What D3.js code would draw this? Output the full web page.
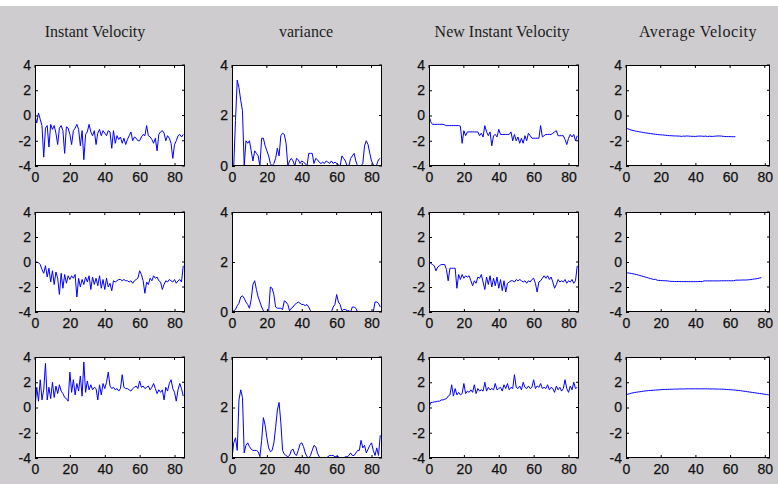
<!DOCTYPE html>
<html>
<head>
<meta charset="utf-8">
<script src="https://cdn.jsdelivr.net/npm/d3@7"></script>
<style>
  html, body { margin: 0; padding: 0; background: #ffffff; }
  svg { display: block; }
  .tick text { font-family: "Liberation Sans", Arial, sans-serif; font-size: 14px; fill: #111111; stroke: #111111; stroke-width: 0.25px; }
  .title { font-family: "Liberation Serif", "Times New Roman", serif; font-size: 16px; fill: #1c1c1c; }
</style>
</head>
<body>
<div id="chart"></div>
<script>
// Column headings
const columnTitles = ["Instant Velocity", "variance", "New Instant Velocity", "Average Velocity"];

// Tick values
const xTickValues = [0, 20, 40, 60, 80];
const velocityTickValues = [-4, -2, 0, 2, 4];
const varianceTickValues = [0, 2, 4];

// Instant velocity, one series per row (sample index = position in array)
const instantVelocity1 = [0, -0.6, 0.2, -0.3, -0.8, -3.3, -1.0, -0.8, -2.5, -0.7, -1.1, -0.8, -1.4, -2.3, -1.0, -0.8, -1.2, -3.0, -0.9, -1.0, -1.5, -2.3, -1.2, -1.0, -0.7, -1.1, -2.4, -1.2, -3.5, -1.5, -1.3, -0.7, -1.3, -1.6, -1.2, -2.3, -1.4, -1.1, -1.6, -1.2, -1.4, -1.6, -1.2, -1.3, -2.6, -1.2, -2.2, -1.6, -1.9, -1.7, -2.2, -1.8, -2.3, -1.9, -1.6, -1.3, -2.0, -1.7, -1.8, -2.0, -2.0, -1.7, -1.5, -1.6, -0.8, -1.6, -1.7, -1.9, -2.2, -1.8, -2.8, -1.5, -1.3, -1.2, -1.4, -2.0, -1.6, -1.8, -2.2, -3.4, -2.3, -2.0, -1.6, -1.5, -1.7, -1.5];
const instantVelocity2 = [0, 0, -0.05, -0.2, -0.6, -0.9, -0.3, -1.2, -0.5, -1.6, -0.7, -1.8, -0.8, -1.3, -2.6, -0.9, -2.1, -1.0, -1.7, -1.1, -1.4, -1.1, -1.3, -1.0, -2.8, -1.3, -2.0, -1.4, -1.8, -1.2, -1.6, -1.1, -2.2, -1.2, -1.8, -1.3, -1.9, -1.1, -2.1, -1.4, -2.2, -1.3, -2.0, -1.7, -2.3, -1.5, -1.6, -1.5, -1.4, -1.4, -1.5, -1.4, -1.5, -1.5, -1.6, -1.5, -1.7, -1.5, -1.4, -1.3, -0.7, -1.0, -1.5, -2.5, -1.6, -1.8, -1.3, -1.5, -1.1, -1.3, -1.2, -1.5, -1.6, -2.2, -1.8, -1.5, -1.6, -1.4, -1.5, -1.6, -1.4, -1.7, -1.5, -1.4, -1.6, -0.3];
const instantVelocity3 = [0.0, 1.6, 0.5, 2.2, 0.6, 1.4, 3.5, 0.6, 1.6, 0.7, 2.0, 0.8, 1.7, 1.1, 1.8, 1.3, 1.1, 0.8, 0.7, 0.5, 2.8, 1.2, 2.2, 1.0, 1.9, 1.3, 2.5, 0.9, 3.6, 1.2, 2.1, 1.4, 1.8, 1.4, 1.6, 1.5, 0.6, 1.8, 1.0, 1.9, 1.5, 2.0, 2.8, 1.7, 1.5, 1.6, 1.4, 1.5, 1.3, 1.5, 2.6, 1.6, 1.5, 1.5, 1.4, 1.3, 1.5, 1.6, 1.7, 1.5, 2.1, 1.6, 1.7, 1.5, 1.6, 1.7, 1.4, 1.6, 1.9, 1.5, 1.1, 1.4, 1.2, 1.4, 0.6, 1.6, 1.3, 1.9, 2.2, 1.5, 1.2, 0.5, 1.4, 1.9, 1.5, 0.9];

// Variance
const variance1 = [0, 0, 1.8, 3.4, 3.1, 2.6, 2.2, 0, 1.0, 0.9, 1.0, 0.6, 0.2, 0.6, 0.5, 0.4, 0, 1.1, 1.1, 0.8, 0.6, 0.4, 0.1, 0, 0.1, 0.3, 0.7, 0.4, 1.2, 1.3, 1.25, 0.9, 0, 0.2, 0.3, 0.2, 0, 0.3, 0.25, 0.1, 0.2, 0.15, 0.1, 0, 0.5, 0.5, 0.5, 0.1, 0.3, 0.25, 0.15, 0.1, 0.15, 0.1, 0.2, 0.15, 0.1, 0.2, 0.1, 0.15, 0.1, 0.05, 0, 0.4, 0.3, 0.2, 0, 0, 0.3, 0.4, 0.5, 0.2, 0, 0, 0, 0.1, 0.8, 1.0, 0.85, 0.5, 0.2, 0.05, 0, 0.05, 0.25, 0.3];
const variance2 = [0, 0.05, 0.1, 0.25, 0.35, 0.6, 0.65, 0.55, 0.4, 0.3, 0.15, 0.5, 1.1, 1.25, 0.9, 0.6, 0.4, 0.2, 0.05, 0, 0, 0, 1.0, 0.95, 0.7, 0.2, 0.15, 0.15, 0.15, 0.1, 0.45, 0.4, 0.3, 0.05, 0.15, 0.2, 0.3, 0.35, 0.4, 0.35, 0.3, 0.3, 0.25, 0.3, 0.2, 0.05, 0, 0, 0, 0, 0, 0, 0, 0, 0, 0, 0, 0, 0.2, 0.3, 0.7, 0.4, 0.3, 0.05, 0.1, 0.1, 0.05, 0.05, 0, 0.2, 0.2, 0.15, 0, 0, 0, 0, 0, 0, 0, 0, 0, 0, 0.4, 0.4, 0.35, 0.2];
const variance3 = [0.0, 0.6, 0.8, 0.3, 2.3, 2.7, 2.4, 0.2, 0.5, 0.6, 0.45, 0.35, 0.3, 0.3, 0.3, 0.25, 0.05, 0.7, 1.6, 1.3, 0.8, 0.4, 0.25, 0.3, 0.6, 1.2, 1.9, 2.2, 1.4, 0.3, 0.15, 0.1, 0.05, 0.1, 0.3, 0.35, 0.15, 0.1, 0.3, 0.55, 0.6, 0.45, 0.2, 0.05, 0.0, 0.1, 0.3, 0.5, 0.45, 0.2, 0.05, 0.0, 0.0, 0.0, 0.0, 0.05, 0.1, 0.1, 0.1, 0.05, 0.05, 0.05, 0.0, 0.0, 0.0, 0.05, 0.05, 0.1, 0.2, 0.1, 0.1, 0.2, 0.3, 0.3, 0.7, 0.4, 0.5, 0.2, 0.35, 0.5, 0.6, 0.3, 0.1, 0.4, 0.1, 0.9];

// New instant velocity
const newInstantVelocity1 = [0, -0.5, -0.7, -0.7, -0.7, -0.7, -0.7, -0.7, -0.7, -0.75, -0.8, -0.8, -0.8, -0.8, -0.8, -0.8, -0.8, -0.8, -0.85, -2.2, -1.2, -1.6, -1.3, -1.3, -1.3, -1.3, -1.3, -1.3, -1.3, -1.6, -1.4, -1.7, -0.8, -1.3, -1.6, -1.3, -2.4, -1.6, -1.5, -1.7, -1.1, -1.5, -1.5, -1.5, -1.5, -1.5, -1.5, -1.3, -2.0, -1.5, -2.0, -1.7, -2.2, -1.8, -2.2, -1.6, -2.0, -1.4, -1.6, -1.8, -1.8, -1.8, -1.8, -1.8, -0.8, -1.7, -1.6, -1.5, -1.5, -1.5, -1.5, -1.4, -1.3, -1.2, -1.6, -1.6, -1.6, -1.6, -1.9, -2.3, -1.8, -1.5, -1.7, -1.5, -2.0, -1.6];
const newInstantVelocity2 = [0, -0.1, -0.2, -0.3, -0.7, -0.4, -0.3, -0.2, -0.2, -0.2, -0.6, -1.5, -0.5, -0.5, -0.5, -0.5, -2.1, -1.0, -1.4, -1.0, -1.3, -1.1, -1.2, -1.1, -1.5, -1.9, -1.5, -1.7, -1.2, -1.3, -1.0, -1.6, -2.2, -1.2, -1.8, -1.1, -2.0, -1.3, -1.9, -1.2, -2.1, -1.4, -2.3, -1.5, -2.4, -1.7, -1.6, -1.5, -1.5, -1.6, -1.4, -1.5, -1.4, -1.5, -1.6, -1.5, -1.7, -1.5, -1.6, -1.4, -1.3, -1.7, -2.4, -1.6, -1.5, -1.3, -1.1, -1.3, -1.1, -1.4, -1.2, -1.6, -2.1, -1.8, -1.4, -1.6, -1.5, -1.6, -1.4, -1.7, -1.5, -1.6, -1.4, -1.7, -1.5, -0.3];
const newInstantVelocity3 = [0.0, 0.4, 0.4, 0.45, 0.45, 0.5, 0.5, 0.6, 0.6, 0.65, 0.7, 0.9, 1.0, 1.8, 0.9, 1.5, 1.0, 1.2, 1.0, 1.1, 1.9, 1.1, 1.3, 1.2, 1.4, 1.2, 1.8, 1.1, 1.5, 1.3, 1.4, 1.3, 2.0, 1.3, 1.6, 1.4, 1.5, 1.4, 1.9, 1.4, 1.5, 1.6, 1.3, 1.8, 1.5, 1.9, 1.4, 1.6, 1.5, 2.6, 1.6, 1.5, 1.7, 1.4, 2.0, 1.6, 1.5, 1.7, 1.5, 1.6, 2.2, 1.5, 1.7, 1.6, 1.9, 1.5, 1.6, 1.5, 1.8, 1.4, 1.6, 1.5, 1.2, 1.7, 1.4, 1.6, 1.3, 1.5, 2.2, 1.5, 1.2, 1.7, 1.4, 2.0, 1.5, 1.6];

// Average velocity
const averageVelocity1 = [-1.00, -1.05, -1.10, -1.15, -1.18, -1.22, -1.25, -1.27, -1.30, -1.32, -1.35, -1.37, -1.39, -1.41, -1.43, -1.45, -1.47, -1.49, -1.50, -1.52, -1.53, -1.54, -1.55, -1.57, -1.58, -1.60, -1.60, -1.61, -1.62, -1.62, -1.63, -1.63, -1.66, -1.63, -1.64, -1.62, -1.63, -1.64, -1.65, -1.65, -1.66, -1.64, -1.63, -1.63, -1.64, -1.65, -1.63, -1.67, -1.64, -1.65, -1.66, -1.64, -1.63, -1.62, -1.62, -1.63, -1.65, -1.66, -1.67, -1.67, -1.67, -1.68, -1.68, -1.68];
const averageVelocity2 = [-0.85, -0.87, -0.89, -0.92, -0.94, -0.97, -1.00, -1.04, -1.08, -1.12, -1.16, -1.20, -1.24, -1.28, -1.32, -1.36, -1.40, -1.38, -1.46, -1.47, -1.48, -1.49, -1.50, -1.50, -1.51, -1.54, -1.55, -1.55, -1.56, -1.56, -1.56, -1.56, -1.57, -1.57, -1.57, -1.57, -1.57, -1.57, -1.57, -1.57, -1.57, -1.57, -1.56, -1.56, -1.56, -1.51, -1.51, -1.51, -1.51, -1.51, -1.51, -1.51, -1.51, -1.51, -1.51, -1.50, -1.50, -1.50, -1.50, -1.50, -1.50, -1.50, -1.50, -1.46, -1.45, -1.45, -1.45, -1.44, -1.44, -1.44, -1.43, -1.42, -1.40, -1.38, -1.36, -1.34, -1.32, -1.28, -1.25];
const averageVelocity3 = [1.00, 1.05, 1.09, 1.13, 1.16, 1.19, 1.21, 1.23, 1.25, 1.27, 1.29, 1.31, 1.32, 1.34, 1.35, 1.36, 1.37, 1.38, 1.39, 1.40, 1.41, 1.42, 1.43, 1.43, 1.44, 1.44, 1.45, 1.45, 1.46, 1.46, 1.46, 1.47, 1.47, 1.47, 1.47, 1.48, 1.48, 1.48, 1.48, 1.48, 1.48, 1.48, 1.48, 1.48, 1.48, 1.48, 1.48, 1.48, 1.47, 1.47, 1.47, 1.47, 1.46, 1.46, 1.46, 1.45, 1.45, 1.44, 1.43, 1.42, 1.41, 1.40, 1.39, 1.38, 1.36, 1.35, 1.33, 1.31, 1.29, 1.27, 1.25, 1.23, 1.21, 1.19, 1.17, 1.15, 1.13, 1.11, 1.09, 1.07, 1.05, 1.03, 1.01, 0.99, 0.97, 0.95];

// ---- layout ----
const width = 778, height = 484;
const colLeft = [35, 232, 429, 626];
const colWidth = [150, 150, 150, 144];
const colXMax = [86, 86, 86, 83];
const rowTop = [65, 212, 357];
const rowHeight = [101, 100, 101];
const titleX = [95, 306, 502, 698];
const titleSpacing = [0, 0, 0, 0.5];
const titleY = 37;
const tickLen = 3;

const columns = [
  { series: [instantVelocity1, instantVelocity2, instantVelocity3], yDomain: [-4, 4], yTicks: velocityTickValues },
  { series: [variance1, variance2, variance3], yDomain: [0, 4], yTicks: varianceTickValues },
  { series: [newInstantVelocity1, newInstantVelocity2, newInstantVelocity3], yDomain: [-4, 4], yTicks: velocityTickValues },
  { series: [averageVelocity1, averageVelocity2, averageVelocity3], yDomain: [-4, 4], yTicks: velocityTickValues }
];

const svg = d3.select("#chart").append("svg")
  .attr("width", width).attr("height", height);

// figure background
svg.append("rect").attr("width", width).attr("height", height).attr("fill", "#ffffff");
svg.append("rect").attr("x", 0).attr("y", 6).attr("width", width).attr("height", height - 6).attr("fill", "#cecccf");

// column headings
svg.selectAll("text.title").data(columnTitles).join("text")
  .attr("class", "title")
  .attr("x", (d, i) => titleX[i])
  .attr("y", titleY)
  .attr("text-anchor", "middle")
  .attr("letter-spacing", (d, i) => titleSpacing[i])
  .text(d => d);

const fmt = d => String(d);

columns.forEach((col, c) => {
  col.series.forEach((values, r) => {
    const x0 = colLeft[c], y0 = rowTop[r], w = colWidth[c], h = rowHeight[r];
    const x = d3.scaleLinear().domain([0, colXMax[c]]).range([0, w]);
    const y = d3.scaleLinear().domain(col.yDomain).range([h, 0]);

    const g = svg.append("g").attr("transform", `translate(${x0},${y0})`);
    const clipId = `clip-${c}-${r}`;
    g.append("clipPath").attr("id", clipId)
      .append("rect").attr("width", w).attr("height", h);

    g.append("rect").attr("width", w).attr("height", h).attr("fill", "#ffffff");

    const line = d3.line().x((d, i) => x(i)).y(d => y(d));
    g.append("path")
      .datum(values)
      .attr("clip-path", `url(#${clipId})`)
      .attr("fill", "none")
      .attr("stroke", "#0000ff")
      .attr("stroke-width", 1)
      .attr("stroke-linejoin", "round")
      .attr("d", line);

    // bottom axis with labels, ticks pointing inward
    const xAxis = g.append("g").attr("transform", `translate(0,${h})`)
      .call(d3.axisBottom(x).tickValues(xTickValues).tickFormat(fmt).tickSizeInner(-tickLen).tickSizeOuter(0).tickPadding(6));
    // left axis with labels
    const yAxis = g.append("g")
      .call(d3.axisLeft(y).tickValues(col.yTicks).tickFormat(fmt).tickSizeInner(-tickLen).tickSizeOuter(0).tickPadding(4));
    [xAxis, yAxis].forEach(a => {
      a.select(".domain").remove();
      a.selectAll(".tick line").attr("stroke", "#000");
      a.selectAll(".tick text").attr("font-family", null).attr("font-size", null).attr("fill", null);
    });

    // mirrored ticks on top and right edges
    g.append("g").selectAll("line").data(xTickValues).join("line")
      .attr("x1", d => x(d)).attr("x2", d => x(d))
      .attr("y1", 0).attr("y2", tickLen).attr("stroke", "#000");
    g.append("g").selectAll("line").data(col.yTicks).join("line")
      .attr("x1", w).attr("x2", w - tickLen)
      .attr("y1", d => y(d)).attr("y2", d => y(d)).attr("stroke", "#000");

    // axes box
    g.append("rect").attr("x", 0.5).attr("y", 0.5).attr("width", w - 1).attr("height", h - 1)
      .attr("fill", "none").attr("stroke", "#000").attr("stroke-width", 1);
  });
});
</script>
</body>
</html>
